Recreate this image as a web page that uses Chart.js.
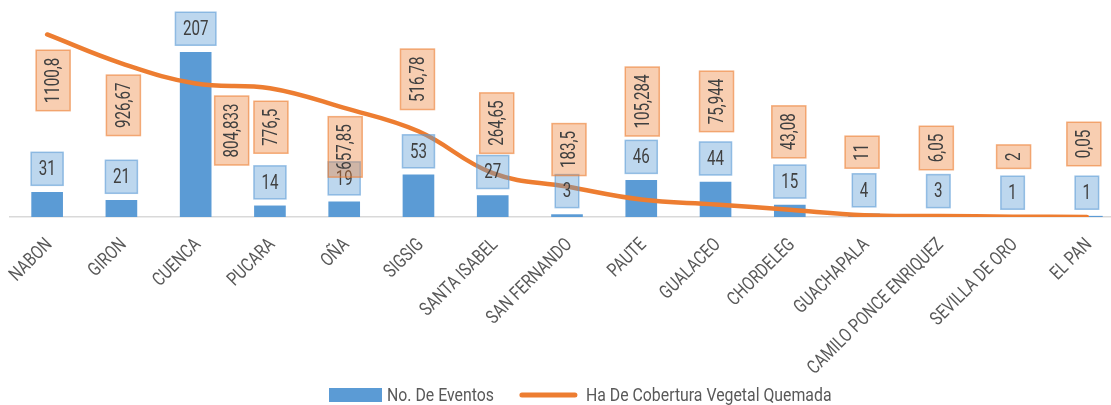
<!DOCTYPE html>
<html>
<head>
    <meta charset="UTF-8">
    <title>Eventos y cobertura vegetal quemada</title>
    <script src="https://cdn.jsdelivr.net/npm/chart.js"></script>
    <style>
        html, body { margin: 0; padding: 0; background: #fff; overflow: hidden; }
        #wrap { width: 1125px; height: 405px; }
    </style>
</head>
<body>
<div id="wrap"><canvas id="chart"></canvas></div>

<script>
    // datos
    var cantones = ['NABON', 'GIRON', 'CUENCA', 'PUCARA', 'OÑA', 'SIGSIG', 'SANTA ISABEL', 'SAN FERNANDO',
        'PAUTE', 'GUALACEO', 'CHORDELEG', 'GUACHAPALA', 'CAMILO PONCE ENRIQUEZ', 'SEVILLA DE ORO', 'EL PAN'];
    var eventos = [31, 21, 207, 14, 19, 53, 27, 3, 46, 44, 15, 4, 3, 1, 1];
    var hectareas = [1100.8, 926.67, 804.833, 776.5, 657.85, 516.78, 264.65, 183.5, 105.284, 75.944, 43.08, 11, 6.05, 2, 0.05];

    // desplazamiento de las etiquetas de la linea (colocadas a mano en el original)
    var lineLabelOffset = [[6, 46], [2, 42], [36, 47], [1, 39], [1, 39], [-1, -52], [4, -50], [2, -37],
        [1, -98], [1, -103], [-1, -78], [-2, -63], [-2, -68], [1, -60], [-3, -73]];

    var FONT = "Roboto, 'Liberation Sans', sans-serif";
    var AZUL = '#5b9bd5';
    var NARANJA = '#ed7d31';

    function fmt(v) {
        return String(v).replace('.', ',');
    }

    // etiqueta con caja, texto comprimido (la fuente original es condensada)
    function caja(ctx, x, y, txt, vertical, fill, stroke) {
        ctx.save();
        ctx.font = '21px ' + FONT;
        var sx = 0.72;
        var tw = ctx.measureText(txt).width * sx;
        var w, h;
        if (vertical) { w = 34; h = tw + 15; } else { w = tw + 15; h = 33; }
        ctx.fillStyle = fill;
        ctx.strokeStyle = stroke;
        ctx.lineWidth = 1.5;
        ctx.fillRect(x - w / 2, y - h / 2, w, h);
        ctx.strokeRect(x - w / 2, y - h / 2, w, h);
        ctx.translate(x, y);
        if (vertical) ctx.rotate(-Math.PI / 2);
        ctx.scale(sx, 1);
        ctx.fillStyle = '#404040';
        ctx.textAlign = 'center';
        ctx.textBaseline = 'middle';
        ctx.fillText(txt, 0, 1);
        ctx.restore();
    }

    var etiquetas = {
        id: 'etiquetas',
        afterDatasetsDraw: function (chart) {
            var ctx = chart.ctx;
            var bars = chart.getDatasetMeta(0).data;
            var pts = chart.getDatasetMeta(1).data;
            for (var i = 0; i < bars.length; i++) {
                caja(ctx, bars[i].x, bars[i].y - 7 - 16.5, String(eventos[i]), false,
                    'rgba(91,155,213,0.4)', 'rgba(91,155,213,0.6)');
            }
            for (var j = 0; j < pts.length; j++) {
                caja(ctx, pts[j].x + lineLabelOffset[j][0], pts[j].y + lineLabelOffset[j][1], fmt(hectareas[j]), true,
                    'rgba(237,125,49,0.38)', 'rgba(237,125,49,0.6)');
            }

            // etiquetas del eje x, giradas 45 grados
            var xs = chart.scales.x;
            ctx.save();
            ctx.font = '19px ' + FONT;
            ctx.fillStyle = '#595959';
            ctx.textAlign = 'right';
            ctx.textBaseline = 'middle';
            for (var k = 0; k < cantones.length; k++) {
                ctx.save();
                ctx.translate(xs.getPixelForTick(k) + 2.5, xs.top + 25);
                ctx.rotate(-Math.PI / 4);
                ctx.scale(0.8, 1);
                ctx.fillText(cantones[k], 0, 0);
                ctx.restore();
            }
            ctx.restore();

            // leyenda
            ctx.save();
            ctx.font = '18px ' + FONT;
            ctx.textBaseline = 'middle';
            var lsx = 0.88;
            var x = 329, y = 395;
            ctx.fillStyle = AZUL;
            ctx.fillRect(x, y - 7, 53, 14);
            x += 58;
            ctx.fillStyle = '#595959';
            ctx.save();
            ctx.translate(x, y + 1);
            ctx.scale(lsx, 1);
            ctx.fillText(chart.data.datasets[0].label, 0, 0);
            ctx.restore();
            x += ctx.measureText(chart.data.datasets[0].label).width * lsx + 28;
            ctx.strokeStyle = NARANJA;
            ctx.lineWidth = 5;
            ctx.lineCap = 'round';
            ctx.beginPath();
            ctx.moveTo(x, y);
            ctx.lineTo(x + 53, y);
            ctx.stroke();
            ctx.translate(x + 64, y + 1);
            ctx.scale(lsx, 1);
            ctx.fillText(chart.data.datasets[1].label, 0, 0);
            ctx.restore();
        }
    };

    var ctx = document.getElementById('chart').getContext('2d');
    var chart = new Chart(ctx, {
        type: 'bar',
        data: {
            labels: cantones,
            datasets: [{
                type: 'bar',
                label: 'No. De Eventos',
                data: eventos,
                backgroundColor: AZUL,
                barThickness: 31,
                yAxisID: 'y',
                order: 2
            }, {
                type: 'line',
                label: 'Ha De Cobertura Vegetal Quemada',
                data: hectareas,
                borderColor: NARANJA,
                borderWidth: 4.5,
                borderCapStyle: 'round',
                tension: 0.4,
                pointRadius: 0,
                fill: false,
                yAxisID: 'y2',
                order: 1
            }]
        },
        options: {
            responsive: true,
            maintainAspectRatio: false,
            animation: false,
            layout: { padding: { left: 10, right: 1, top: 18, bottom: 0 } },
            plugins: {
                legend: { display: false },
                tooltip: { enabled: false }
            },
            scales: {
                x: {
                    grid: { display: false },
                    border: { display: true, color: '#d9d9d9', width: 1.5 },
                    ticks: { display: false },
                    afterFit: function (s) { s.height = 188; }
                },
                y: { display: false, min: 0, max: 250 },
                y2: { display: false, min: 0, max: 1200, position: 'right' }
            }
        },
        plugins: [etiquetas]
    });
</script>
</body>
</html>
